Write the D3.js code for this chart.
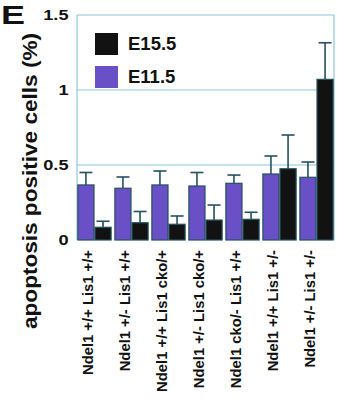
<!DOCTYPE html>
<html>
<head>
<meta charset="utf-8">
<script src="https://cdn.jsdelivr.net/npm/d3@7"></script>
<style>
  html, body { margin: 0; padding: 0; background: #fff; }
  svg { display: block; }
  text { font-family: "Liberation Sans", Arial, Helvetica, sans-serif; font-weight: bold; fill: #111; }
</style>
</head>
<body>
<div id="chart"></div>
<script>
// Genotype groups along the x axis
const categories = [
  "Ndel1 +/+ Lis1 +/+",
  "Ndel1 +/- Lis1 +/+",
  "Ndel1 +/+ Lis1 cko/+",
  "Ndel1 +/- Lis1 cko/+",
  "Ndel1 cko/- Lis1 +/+",
  "Ndel1 +/+ Lis1 +/-",
  "Ndel1 +/- Lis1 +/-"
];
// Apoptosis positive cells (%) per stage, with upper error (SEM) values
const e11Values = [0.367, 0.345, 0.367, 0.360, 0.378, 0.440, 0.418];
const e11Errors = [0.083, 0.075, 0.093, 0.090, 0.055, 0.120, 0.102];
const e15Values = [0.085, 0.115, 0.105, 0.133, 0.138, 0.475, 1.071];
const e15Errors = [0.040, 0.075, 0.055, 0.100, 0.047, 0.225, 0.244];
const seriesNames = ["E15.5", "E11.5"];
const yTicks = [0, 0.5, 1, 1.5];
const yTickLabels = ["0", "0.5", "1", "1.5"];

const W = 337, H = 404;
const plotLeft = 77, plotRight = 334, plotTop = 15, plotBottom = 240;
const purple = "#6a50c6", black = "#121212";
const edge = "#24505f", grid = "#8ec4dc";

const svg = d3.select("#chart").append("svg").attr("width", W).attr("height", H);

const x = d3.scaleBand().domain(categories).range([plotLeft, plotRight]).paddingInner(0.075).paddingOuter(0.01);
const y = d3.scaleLinear().domain([0, 1.5]).range([plotBottom, plotTop]);
const inner = d3.scaleBand().domain(["E11.5", "E15.5"]).range([0, x.bandwidth()]);

// Frame and gridlines
svg.append("g").selectAll("line").data(yTicks.filter(t => t > 0)).join("line")
  .attr("x1", plotLeft).attr("x2", plotRight)
  .attr("y1", d => y(d)).attr("y2", d => y(d))
  .attr("stroke", grid).attr("stroke-width", 1.2);
svg.append("line").attr("x1", plotLeft).attr("x2", plotLeft).attr("y1", y(1.5)).attr("y2", plotBottom)
  .attr("stroke", grid).attr("stroke-width", 1.2);
svg.append("line").attr("x1", plotRight).attr("x2", plotRight).attr("y1", y(1.5)).attr("y2", plotBottom)
  .attr("stroke", grid).attr("stroke-width", 1.2);

// Y axis tick labels (slightly wide lettering)
svg.append("g").selectAll("text").data(yTicks).join("text")
  .attr("transform", d => `translate(68.5,${y(d) + 5}) scale(1.3,1)`)
  .attr("text-anchor", "end").attr("font-size", 14)
  .text((d, i) => yTickLabels[i]);

// Bars
const rows = categories.map((c, i) => ([
  { cat: c, key: "E11.5", v: e11Values[i], e: e11Errors[i], color: purple },
  { cat: c, key: "E15.5", v: e15Values[i], e: e15Errors[i], color: black }
])).flat();

const bars = svg.append("g");
// error whiskers (upward only)
bars.selectAll("line.err").data(rows).join("line").attr("class", "err")
  .attr("x1", d => x(d.cat) + inner(d.key) + inner.bandwidth() / 2)
  .attr("x2", d => x(d.cat) + inner(d.key) + inner.bandwidth() / 2)
  .attr("y1", d => y(d.v)).attr("y2", d => y(d.v + d.e))
  .attr("stroke", edge).attr("stroke-width", 1.6);
bars.selectAll("line.cap").data(rows).join("line").attr("class", "cap")
  .attr("x1", d => x(d.cat) + inner(d.key) + inner.bandwidth() / 2 - 6.5)
  .attr("x2", d => x(d.cat) + inner(d.key) + inner.bandwidth() / 2 + 6.5)
  .attr("y1", d => y(d.v + d.e)).attr("y2", d => y(d.v + d.e))
  .attr("stroke", edge).attr("stroke-width", 1.6);
bars.selectAll("rect").data(rows).join("rect")
  .attr("x", d => x(d.cat) + inner(d.key) + 0.5)
  .attr("width", inner.bandwidth() - 1)
  .attr("y", d => y(d.v))
  .attr("height", d => plotBottom - y(d.v))
  .attr("fill", d => d.color)
  .attr("stroke", edge).attr("stroke-width", 1.2);

// Category labels, rotated
svg.append("g").selectAll("text").data(categories).join("text")
  .attr("transform", d => `translate(${x(d) + x.bandwidth() / 2 - 1.5},250) rotate(-90)`)
  .attr("text-anchor", "end").attr("font-size", 14.8)
  .text(d => d);

// Y axis title
svg.append("text")
  .attr("transform", "translate(37,181) rotate(-90)")
  .attr("text-anchor", "middle").attr("font-size", 21)
  .attr("textLength", 296).attr("lengthAdjust", "spacingAndGlyphs")
  .text("apoptosis positive cells (%)");

// Legend
const legend = svg.append("g");
const legendColors = [black, purple];
legend.selectAll("rect").data(seriesNames).join("rect")
  .attr("x", 95).attr("y", (d, i) => 33 + i * 33)
  .attr("width", 23).attr("height", 22)
  .attr("fill", (d, i) => legendColors[i]);
legend.selectAll("text").data(seriesNames).join("text")
  .attr("x", 128).attr("y", (d, i) => 50 + i * 33)
  .attr("font-size", 18.5)
  .text(d => d);

// Panel letter
svg.append("text").attr("x", 1).attr("y", 24).attr("font-size", 26)
  .attr("textLength", 24).attr("lengthAdjust", "spacingAndGlyphs").text("E");
</script>
</body>
</html>
